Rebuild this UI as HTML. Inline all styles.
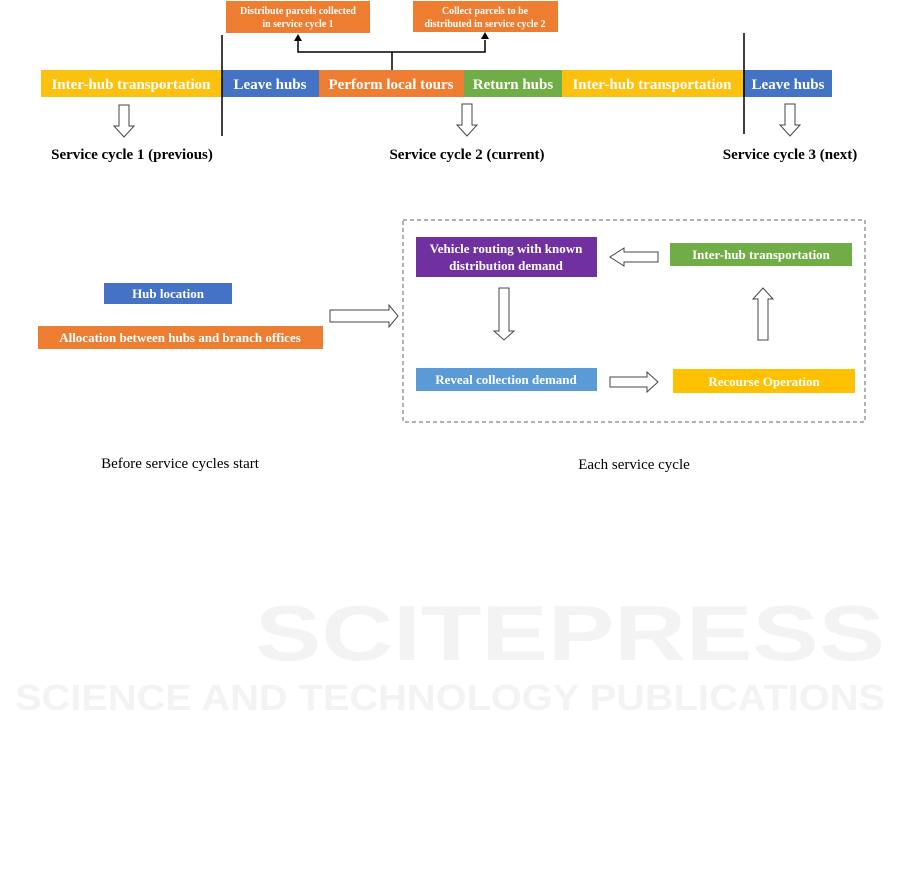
<!DOCTYPE html>
<html><head><meta charset="utf-8"><style>
html,body{margin:0;padding:0;background:#fff;}
svg{display:block;}
text{font-family:"Liberation Serif",serif;font-weight:bold;}
.w{fill:#fff;}
</style></head><body>
<svg width="901" height="885" viewBox="0 0 901 885" xmlns="http://www.w3.org/2000/svg">
<!-- watermark -->
<text x="255" y="660" textLength="630" lengthAdjust="spacingAndGlyphs" font-size="78" fill="#f3f3f3" style="font-family:'Liberation Sans',sans-serif">SCITEPRESS</text>
<text x="15" y="710" textLength="870" lengthAdjust="spacingAndGlyphs" font-size="36" fill="#f3f3f3" style="font-family:'Liberation Sans',sans-serif">SCIENCE AND TECHNOLOGY PUBLICATIONS</text>

<!-- top boxes -->
<rect x="226" y="1" width="144" height="32" fill="#ed7d31"/>
<text class="w" x="298" y="14" text-anchor="middle" font-size="10">Distribute parcels collected</text>
<text class="w" x="298" y="27" text-anchor="middle" font-size="10">in service cycle 1</text>
<rect x="413" y="1" width="145" height="31" fill="#ed7d31"/>
<text class="w" x="485" y="14" text-anchor="middle" font-size="10">Collect parcels to be</text>
<text class="w" x="485" y="27" text-anchor="middle" font-size="10">distributed in service cycle 2</text>
<path d="M298 40 V52 H485 V40 M392 52 V70" stroke="#000" stroke-width="1.5" fill="none"/>
<path d="M294 41 L298 34 L302 41Z M481 39 L485 32 L489 39Z" fill="#000"/>

<!-- bar -->
<rect x="41" y="70" width="181" height="27" fill="#fcc00f"/>
<rect x="222" y="70" width="97" height="27" fill="#4472c4"/>
<rect x="319" y="70" width="145" height="27" fill="#ed7d31"/>
<rect x="464" y="70" width="98" height="27" fill="#70ad47"/>
<rect x="562" y="70" width="181" height="27" fill="#fcc00f"/>
<rect x="743" y="70" width="89" height="27" fill="#4472c4"/>
<text class="w" x="131" y="89" text-anchor="middle" font-size="15">Inter-hub transportation</text>
<text class="w" x="270" y="89" text-anchor="middle" font-size="15">Leave hubs</text>
<text class="w" x="391" y="89" text-anchor="middle" font-size="15">Perform local tours</text>
<text class="w" x="513" y="89" text-anchor="middle" font-size="15">Return hubs</text>
<text class="w" x="652" y="89" text-anchor="middle" font-size="15">Inter-hub transportation</text>
<text class="w" x="788" y="89" text-anchor="middle" font-size="15">Leave hubs</text>
<line x1="222" y1="35" x2="222" y2="136" stroke="#000" stroke-width="1.5"/>
<line x1="744" y1="33" x2="744" y2="134" stroke="#000" stroke-width="1.5"/>

<g fill="#fff" stroke="#444" stroke-width="1">
<path d="M119 105 H129 V126 H134 L124 137 L114 126 H119Z"/>
<path d="M462 104 H472 V125 H477 L467 136 L457 125 H462Z"/>
<path d="M785 104 H795 V125 H800 L790 136 L780 125 H785Z"/>
</g>
<text x="132" y="159" text-anchor="middle" font-size="15">Service cycle 1 (previous)</text>
<text x="467" y="159" text-anchor="middle" font-size="15">Service cycle 2 (current)</text>
<text x="790" y="159" text-anchor="middle" font-size="15">Service cycle 3 (next)</text>

<!-- bottom left -->
<rect x="104" y="283" width="128" height="21" fill="#4472c4"/>
<text class="w" x="168" y="298" text-anchor="middle" font-size="13">Hub location</text>
<rect x="38" y="326" width="285" height="23" fill="#ed7d31"/>
<text class="w" x="180" y="342" text-anchor="middle" font-size="13">Allocation between hubs and branch offices</text>
<path d="M330 310 H389 V305 L398 316 L389 327 V322 H330Z" fill="#fff" stroke="#444"/>

<!-- dashed box -->
<rect x="403" y="220" width="462" height="202" fill="none" stroke="#666" stroke-dasharray="4,3"/>
<rect x="416" y="237" width="181" height="40" fill="#7030a0"/>
<text class="w" x="506" y="253" text-anchor="middle" font-size="13">Vehicle routing with known</text>
<text class="w" x="506" y="270" text-anchor="middle" font-size="13">distribution demand</text>
<rect x="670" y="243" width="182" height="23" fill="#70ad47"/>
<text class="w" x="761" y="259" text-anchor="middle" font-size="13">Inter-hub transportation</text>
<rect x="416" y="368" width="181" height="23" fill="#5b9bd5"/>
<text class="w" x="506" y="384" text-anchor="middle" font-size="13">Reveal collection demand</text>
<rect x="673" y="369" width="182" height="24" fill="#ffc000"/>
<text class="w" x="764" y="386" text-anchor="middle" font-size="13">Recourse Operation</text>
<g fill="#fff" stroke="#444" stroke-width="1">
<path d="M658 252 H624 V248 L610 257 L624 266 V262 H658Z"/>
<path d="M499 288 H509 V331 H514 L504 340 L494 331 H499Z"/>
<path d="M610 377 H647 V372 L658 382 L647 392 V387 H610Z"/>
<path d="M758 340 H768 V299 H773 L763 288 L753 299 H758Z"/>
</g>

<text x="180" y="468" text-anchor="middle" font-size="15" style="font-weight:normal">Before service cycles start</text>
<text x="634" y="469" text-anchor="middle" font-size="15" style="font-weight:normal">Each service cycle</text>
</svg>
</body></html>
